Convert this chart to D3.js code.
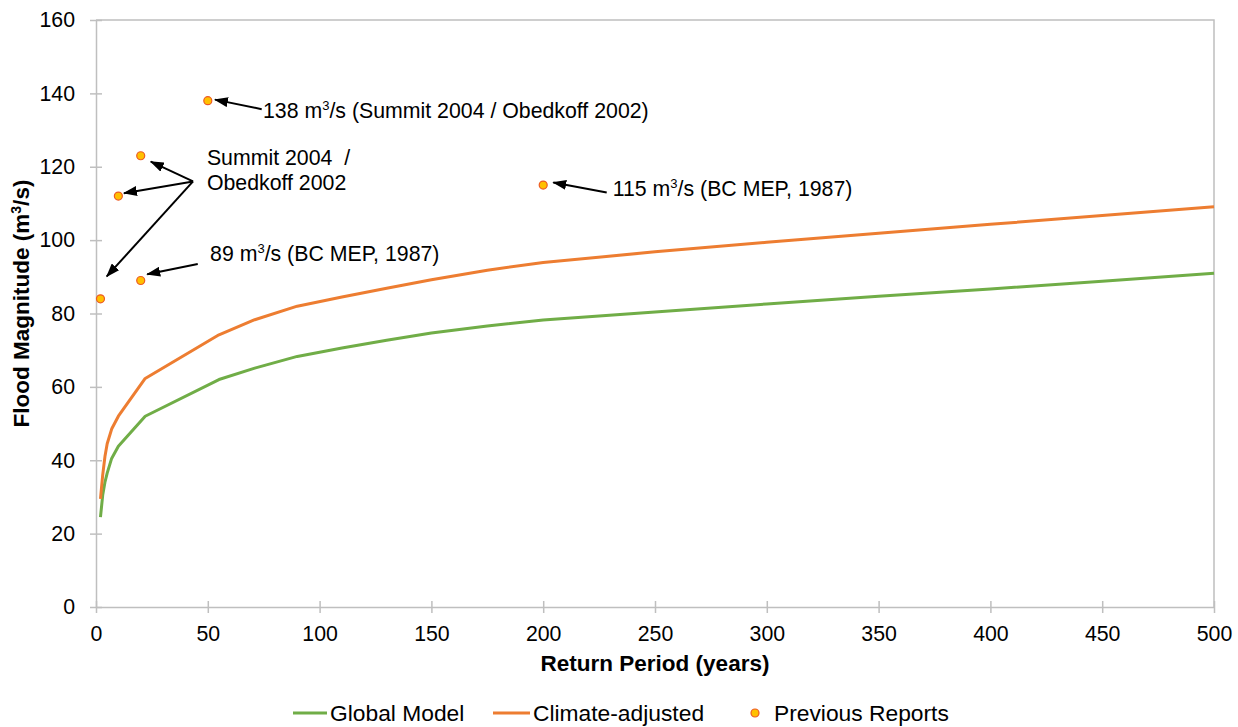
<!DOCTYPE html>
<html>
<head>
<meta charset="utf-8">
<script src="https://cdn.jsdelivr.net/npm/d3@7"></script>
<style>
  body { margin: 0; background: #fff; }
  svg { font-family: "Liberation Sans", Arial, sans-serif; }
</style>
</head>
<body>
<div id="chart"></div>
<script>
// return periods (years) and flood magnitudes (m3/s)
const returnPeriods = [2, 3, 4, 5, 7, 10, 22, 55, 71, 90, 110, 130, 150, 175, 200, 250, 300, 350, 400, 450, 500];
const globalModel   = [24.5, 30.5, 34, 36.5, 40.5, 43.8, 52, 62, 65.1, 68.3, 70.6, 72.7, 74.7, 76.6, 78.2, 80.4, 82.6, 84.7, 86.7, 88.8, 91];
const climateAdj    = [29.5, 36, 41, 44.5, 48.5, 52, 62.3, 74.2, 78.3, 82, 84.5, 86.9, 89.2, 91.8, 93.9, 96.8, 99.4, 101.9, 104.3, 106.7, 109.1];

const reportPeriods = [2, 10, 20, 20, 50, 200];
const reportValues  = [84, 112, 123, 89, 138, 115];

const xTicks = [0, 50, 100, 150, 200, 250, 300, 350, 400, 450, 500];
const yTicks = [0, 20, 40, 60, 80, 100, 120, 140, 160];

// annotation text (anchor in data units) and arrows (from -> to, data units)
const noteLabels = [
  {x: 74.7, y: 133.4, pre: "138 m", post: "/s (Summit 2004 / Obedkoff 2002)"},
  {x: 51,   y: 94.2,  pre: "89 m",  post: "/s (BC MEP, 1987)"},
  {x: 231.1, y: 112.1, pre: "115 m", post: "/s (BC MEP, 1987)"}
];
const plainLabels = [
  {x: 49.6, y: 120.5, text: "Summit 2004  /"},
  {x: 49.6, y: 113.7, text: "Obedkoff 2002"}
];
const arrows = [
  {x0: 74.1, y0: 135.7, x1: 53.2, y1: 138.3},
  {x0: 43.4, y0: 116,   x1: 24.5, y1: 121.4},
  {x0: 43.4, y0: 116,   x1: 12.5, y1: 112.8},
  {x0: 43.4, y0: 116,   x1: 4.8,  y1: 90.1},
  {x0: 45.5, y0: 93.5,  x1: 22.9, y1: 90.7},
  {x0: 228.4, y0: 113,  x1: 204.5, y1: 115.7}
];

const W = 1238, H = 727;
const margin = {top: 20, right: 24, bottom: 120, left: 96};
const fs = 21.3;

const svg = d3.select("#chart").append("svg")
  .attr("width", W).attr("height", H);

svg.append("defs").append("marker")
  .attr("id", "arrowhead")
  .attr("markerUnits", "userSpaceOnUse")
  .attr("viewBox", "0 0 14 10")
  .attr("refX", 13).attr("refY", 5)
  .attr("markerWidth", 14).attr("markerHeight", 10)
  .attr("orient", "auto")
  .append("path")
  .attr("d", "M0,0 L14,5 L0,10 Z")
  .attr("fill", "#000");

const x = d3.scaleLinear().domain([0, 500]).range([margin.left, W - margin.right]);
const y = d3.scaleLinear().domain([0, 160]).range([H - margin.bottom, margin.top]);

const axisColor = "#bfbfbf";

// plot frame (top / right)
svg.append("path")
  .attr("d", `M${x(0)},${y(160)} H${x(500)} V${y(0)}`)
  .attr("fill", "none").attr("stroke", axisColor).attr("stroke-width", 1.5);

const yAxis = svg.append("g")
  .attr("transform", `translate(${x(0)},0)`)
  .call(d3.axisLeft(y).tickValues(yTicks).tickSizeInner(6).tickSizeOuter(0).tickPadding(15));
yAxis.selectAll(".tick line").attr("x1", -6).attr("x2", 6);

const xAxis = svg.append("g")
  .attr("transform", `translate(0,${y(0)})`)
  .call(d3.axisBottom(x).tickValues(xTicks).tickSizeInner(6).tickSizeOuter(0).tickPadding(13));
xAxis.selectAll(".tick line").attr("y1", -6).attr("y2", 6);

svg.selectAll(".domain, .tick line").attr("stroke", axisColor).attr("stroke-width", 1.5);
svg.selectAll(".tick text").attr("font-size", fs).attr("fill", "#000")
  .attr("font-family", "Liberation Sans, Arial, sans-serif");

// axis titles
svg.append("text")
  .attr("x", (x(0) + x(500)) / 2).attr("y", 671)
  .attr("text-anchor", "middle").attr("font-weight", "bold").attr("font-size", 22.5)
  .text("Return Period (years)");

const yt = svg.append("text")
  .attr("transform", `translate(29,${(y(0) + y(160)) / 2 - 10}) rotate(-90)`)
  .attr("text-anchor", "middle").attr("font-weight", "bold").attr("font-size", 22.5);
yt.append("tspan").text("Flood Magnitude (m");
yt.append("tspan").attr("font-size", 14).attr("dy", -8).text("3");
yt.append("tspan").attr("dy", 8).text("/s)");

// lines
const line = d3.line()
  .x((d, i) => x(returnPeriods[i]))
  .y(d => y(d));

svg.append("path").datum(globalModel)
  .attr("d", line).attr("fill", "none")
  .attr("stroke", "#70ad47").attr("stroke-width", 3).attr("stroke-linejoin", "round");
svg.append("path").datum(climateAdj)
  .attr("d", line).attr("fill", "none")
  .attr("stroke", "#ed7d31").attr("stroke-width", 3).attr("stroke-linejoin", "round");

// previous reports
svg.selectAll(".report")
  .data(reportValues)
  .enter()
  .append("circle")
  .attr("class", "report")
  .attr("cx", (d, i) => x(reportPeriods[i]))
  .attr("cy", d => y(d))
  .attr("r", 4)
  .attr("fill", "#ffc000")
  .attr("stroke", "#ed5a24")
  .attr("stroke-width", 1.2);

// arrows
svg.selectAll(".arrow")
  .data(arrows)
  .enter()
  .append("line")
  .attr("class", "arrow")
  .attr("x1", d => x(d.x0)).attr("y1", d => y(d.y0))
  .attr("x2", d => x(d.x1)).attr("y2", d => y(d.y1))
  .attr("stroke", "#000").attr("stroke-width", 2)
  .attr("marker-end", "url(#arrowhead)");

// annotation text
noteLabels.forEach(n => {
  const t = svg.append("text")
    .attr("x", x(n.x)).attr("y", y(n.y))
    .attr("font-size", fs).attr("fill", "#000");
  t.append("tspan").text(n.pre);
  t.append("tspan").attr("font-size", 13).attr("dy", -8).text("3");
  t.append("tspan").attr("dy", 8).text(n.post);
});

svg.selectAll(".plain")
  .data(plainLabels)
  .enter()
  .append("text")
  .attr("class", "plain")
  .attr("x", d => x(d.x)).attr("y", d => y(d.y))
  .attr("font-size", fs).attr("fill", "#000")
  .style("white-space", "pre")
  .text(d => d.text);

// legend
const legendY = 713;
const lfs = 22.8;
const lg = svg.append("g");
lg.append("line").attr("x1", 293).attr("x2", 327).attr("y1", legendY).attr("y2", legendY)
  .attr("stroke", "#70ad47").attr("stroke-width", 3);
lg.append("text").attr("x", 330).attr("y", legendY + 8).attr("font-size", lfs).text("Global Model");
lg.append("line").attr("x1", 493).attr("x2", 530).attr("y1", legendY).attr("y2", legendY)
  .attr("stroke", "#ed7d31").attr("stroke-width", 3);
lg.append("text").attr("x", 533).attr("y", legendY + 8).attr("font-size", lfs).text("Climate-adjusted");
lg.append("circle").attr("cx", 755).attr("cy", legendY).attr("r", 4)
  .attr("fill", "#ffc000").attr("stroke", "#ed5a24").attr("stroke-width", 1.2);
lg.append("text").attr("x", 774).attr("y", legendY + 8).attr("font-size", lfs).text("Previous Reports");
</script>
</body>
</html>
